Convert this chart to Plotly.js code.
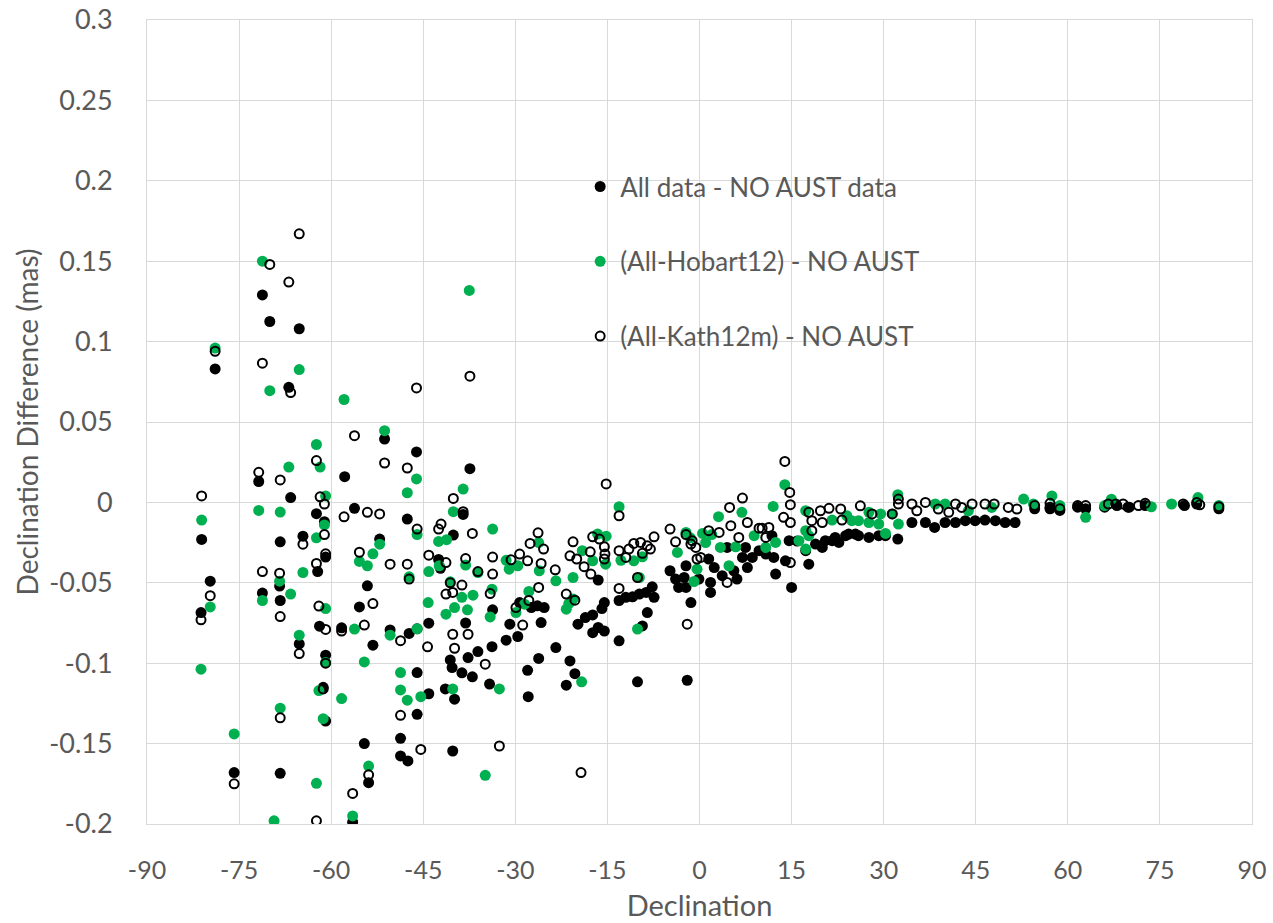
<!DOCTYPE html>
<html>
<head>
<meta charset="utf-8">
<script src="https://cdn.plot.ly/plotly-3.0.1.min.js"></script>
<style>
  body { margin: 0; background: #fff; }
  #chart { width: 1273px; height: 923px; }
</style>
</head>
<body>
<div id="chart"></div>
<script>
// [declination, difference (mas)]
var allMinusNoAust = [
  [-81.1,-0.023],[-81.2,-0.0685],[-79.7,-0.049],[-78.9,0.083],[-75.8,-0.168],
  [-71.2,0.129],[-71.8,0.013],[-71.2,-0.0564],[-70.0,0.1125],[-68.3,-0.0245],
  [-68.4,-0.052],[-68.3,-0.061],[-68.3,-0.1685],[-66.9,0.0716],[-66.6,0.003],
  [-65.2,0.108],[-65.2,-0.088],[-64.6,-0.021],[-62.4,-0.007],[-62.2,-0.043],
  [-61.9,-0.077],[-61.1,-0.012],[-60.9,-0.034],[-60.9,-0.095],[-61.3,-0.115],
  [-60.9,-0.136],[-58.3,-0.078],[-57.8,0.016],[-56.2,-0.0037],[-55.4,-0.065],
  [-54.1,-0.0519],[-54.6,-0.150],[-53.9,-0.1743],[-53.2,-0.0888],[-56.5,-0.1988],
  [-52.1,-0.0228],[-51.3,0.0394],[-50.4,-0.0793],[-48.7,-0.1467],[-48.7,-0.1577],
  [-47.5,-0.1608],[-47.6,-0.0104],[-47.3,-0.0815],[-46.1,0.0314],[-46,-0.0786],
  [-46,-0.1058],[-46,-0.1318],[-44.1,-0.0751],[-44.1,-0.119],[-42.5,-0.0355],
  [-42.2,-0.041],[-41.4,-0.116],[-40.6,-0.098],[-40.3,-0.1027],[-40.2,-0.1546],
  [-40.1,-0.0203],[-39.9,-0.1224],[-38.7,-0.106],[-38.5,-0.0075],[-38.1,-0.075],
  [-37.7,-0.0965],[-37.4,0.021],[-37,-0.1085],[-36.1,-0.0928],[-34.2,-0.113],
  [-33.8,-0.0897],[-33.7,-0.0668],[-31.5,-0.0857],[-30.9,-0.0757],[-29.6,-0.0834],
  [-29.3,-0.0623],[-28,-0.1044],[-27.9,-0.1208],[-27.4,-0.0654],[-26.4,-0.0643],
  [-26.2,-0.097],[-25.8,-0.0747],[-25.3,-0.0654],[-23.4,-0.0903],[-21.7,-0.1137],
  [-21.1,-0.0986],[-20.3,-0.1065],[-19.8,-0.0757],[-18.6,-0.0716],[-17.4,-0.070],
  [-17.4,-0.081],[-16.5,-0.0778],[-16.5,-0.0483],[-15.5,-0.080],[-15.5,-0.0623],
  [-15.9,-0.066],[-13.1,-0.061],[-13.1,-0.0861],[-12,-0.059],[-10.9,-0.0587],
  [-10.1,-0.1116],[-9.8,-0.057],[-9.3,-0.0768],[-8.7,-0.056],[-8.5,-0.0685],
  [-7.7,-0.0525],[-7.4,-0.059],[-4.8,-0.0425],[-3.9,-0.0477],[-3.4,-0.0529],
  [-2.5,-0.0467],[-2.2,-0.0394],[-2.2,-0.0529],[-2,-0.1106],[-1.4,-0.0623],
  [-0.1,-0.0477],[1.5,-0.0352],[1.8,-0.0498],[1.8,-0.056],[2.4,-0.0405],
  [3.7,-0.0456],[4.5,-0.028],[5.6,-0.0425],[6.1,-0.0477],[7,-0.0342],
  [7.5,-0.028],[7.8,-0.0405],[8.6,-0.0342],[9.7,-0.030],[10.8,-0.0321],
  [11.8,-0.0207],[12.1,-0.0342],[12.4,-0.0446],[14,-0.0363],[14.6,-0.0238],
  [15,-0.0529],[15.9,-0.024],[17.3,-0.030],[17.8,-0.0384],[18.9,-0.0259],
  [20,-0.028],[20.5,-0.0238],[21.6,-0.0238],[22.1,-0.0218],[22.7,-0.0249],
  [23.8,-0.0207],[24.3,-0.0197],[25.4,-0.0197],[25.9,-0.0207],[27.6,-0.0218],
  [29.2,-0.0207],[30.3,-0.0207],[32.3,-0.0228],[34.6,-0.0125],[36.8,-0.0125],
  [38.3,-0.0156],[40,-0.0125],[41.7,-0.0125],[43.3,-0.0114],[44.9,-0.0114],
  [46.5,-0.011],[48.2,-0.0114],[49.8,-0.0125],[51.4,-0.0125],[54.6,-0.004],
  [57.1,-0.004],[58.7,-0.005],[61.6,-0.003],[62.9,-0.004],[66,-0.003],
  [68,-0.002],[70,-0.003],[72.6,-0.002],[79,-0.002],[81,-0.001],[84.6,-0.004]
];

var hobartMinusNoAust = [
  [-81.1,-0.011],[-79.7,-0.065],[-81.2,-0.1037],[-78.9,0.096],[-75.8,-0.144],
  [-71.2,0.150],[-71.8,-0.005],[-71.2,-0.061],[-70.0,0.0695],[-69.3,-0.198],
  [-68.3,-0.006],[-68.3,-0.128],[-68.4,-0.049],[-66.9,0.022],[-66.6,-0.057],
  [-65.2,0.0826],[-65.2,-0.0826],[-64.6,-0.0436],[-62.4,0.036],[-62.4,-0.022],
  [-62.4,-0.1747],[-62,-0.117],[-61.8,0.022],[-61.1,-0.014],[-60.9,0.004],
  [-60.9,-0.066],[-60.9,-0.0996],[-61.3,-0.1345],[-58.3,-0.122],[-57.9,0.064],
  [-56.2,-0.0788],[-56.5,-0.195],[-55.4,-0.0367],[-54.6,-0.0992],[-54.1,-0.0394],
  [-53.9,-0.164],[-53.2,-0.032],[-52.1,-0.026],[-51.3,0.0446],[-50.4,-0.0826],
  [-48.7,-0.1058],[-48.7,-0.1166],[-47.6,0.006],[-47.6,-0.123],[-47.3,-0.0463],
  [-46.1,0.0146],[-46,-0.020],[-46,-0.0786],[-45.4,-0.1208],[-44.2,-0.0623],
  [-44.1,-0.043],[-42.5,-0.0243],[-42.4,-0.0394],[-41.3,-0.0695],[-41.2,-0.0232],
  [-40.6,-0.0494],[-40.2,-0.116],[-40.1,-0.0058],[-39.9,-0.0654],[-38.7,-0.059],
  [-38.5,0.0083],[-38.1,-0.039],[-37.8,-0.0668],[-37.5,0.1318],[-36.9,-0.0577],
  [-36.1,-0.0436],[-34.9,-0.1697],[-34.1,-0.0712],[-33.8,-0.054],[-33.7,-0.0166],
  [-32.6,-0.116],[-31.5,-0.036],[-31,-0.0415],[-29.9,-0.0685],[-29.6,-0.0394],
  [-28.5,-0.0633],[-27.8,-0.0554],[-26.2,-0.025],[-26.1,-0.0425],[-23.4,-0.0488],
  [-21.7,-0.0664],[-21.3,-0.063],[-20.6,-0.0467],[-20.6,-0.060],[-19.2,-0.1116],
  [-19.1,-0.030],[-17.4,-0.0363],[-16.6,-0.0197],[-15.3,-0.0384],[-15.2,-0.021],
  [-13.1,-0.0027],[-12.8,-0.036],[-10.7,-0.0363],[-10.1,-0.0788],[-9.8,-0.0467],
  [-9.3,-0.0338],[-3.6,-0.0311],[-2.2,-0.0187],[-1.5,-0.022],[-0.9,-0.0492],
  [-0.4,-0.0415],[0.5,-0.0193],[1,-0.025],[2,-0.02],[3.1,-0.0089],
  [3.4,-0.028],[4.8,-0.0394],[5.9,-0.0276],[6.9,-0.0062],[8.9,-0.0207],
  [10.8,-0.028],[12,-0.0025],[12.4,-0.0249],[13.9,0.011],[16.2,-0.0238],
  [17.3,-0.0052],[17.3,-0.029],[17.3,-0.0176],[17.8,-0.0207],[21.6,-0.011],
  [24,-0.0083],[24.8,-0.0114],[25.9,-0.0114],[27.6,-0.0062],[27.6,-0.0125],
  [29.2,-0.0135],[29.5,-0.0072],[30.3,-0.0193],[31.4,-0.0072],[32.3,0.0048],
  [32.4,-0.0135],[38.4,-0.001],[40,-0.001],[43.8,-0.0052],[47.6,-0.0031],
  [52.8,0.0021],[54.4,-0.001],[57.4,0.004],[58.7,-0.002],[62.9,-0.0093],
  [66,-0.002],[67.1,0.002],[73.6,-0.0027],[76.9,-0.001],[81.2,0.003],[84.6,-0.002]
];

var kathMinusNoAust = [
  [-81.1,0.004],[-81.2,-0.073],[-79.7,-0.058],[-78.9,0.094],[-75.8,-0.175],
  [-71.8,0.0187],[-71.2,0.0866],[-71.2,-0.043],[-70.0,0.148],[-68.3,0.014],
  [-68.4,-0.044],[-68.3,-0.071],[-68.3,-0.134],[-66.9,0.137],[-66.6,0.0683],
  [-65.2,0.167],[-65.2,-0.094],[-64.6,-0.026],[-62.4,0.026],[-62.4,-0.038],
  [-62.4,-0.198],[-62,-0.0645],[-61.8,0.0035],[-61.1,-0.001],[-61.1,-0.020],
  [-60.9,-0.032],[-60.9,-0.079],[-60.9,-0.100],[-61.3,-0.116],[-58.3,-0.08],
  [-57.9,-0.009],[-56.5,-0.181],[-56.2,0.0415],[-55.4,-0.031],[-54.6,-0.0763],
  [-54.1,-0.0062],[-53.9,-0.1694],[-53.2,-0.0629],[-52.1,-0.0072],[-51.3,0.0245],
  [-50.4,-0.0384],[-48.7,-0.086],[-48.7,-0.1324],[-47.6,0.0214],[-47.6,-0.0384],
  [-47.3,-0.0477],[-46.1,0.0712],[-46,-0.0166],[-45.4,-0.1536],[-44.3,-0.0898],
  [-44.1,-0.0328],[-42.5,-0.0166],[-42.1,-0.0135],[-41.3,-0.0374],[-41.3,-0.057],
  [-40.6,-0.05],[-40.2,-0.056],[-40.2,-0.082],[-40.1,0.0025],[-39.9,-0.0907],
  [-38.7,-0.0514],[-38.5,-0.0058],[-38.1,-0.0349],[-37.7,-0.082],[-37.4,0.0785],
  [-37,-0.0193],[-36.1,-0.043],[-34.9,-0.1006],[-34.1,-0.0567],[-33.7,-0.034],
  [-33.7,-0.0446],[-32.6,-0.1515],[-30.7,-0.0357],[-29.9,-0.0654],[-29.3,-0.0321],
  [-28.8,-0.0763],[-28,-0.0363],[-27.8,-0.061],[-27.6,-0.0255],[-26.3,-0.0189],
  [-26.2,-0.0529],[-25.8,-0.038],[-25.4,-0.029],[-23.5,-0.0419],[-21.7,-0.057],
  [-21.1,-0.0332],[-20.6,-0.0245],[-20.3,-0.0608],[-20,-0.0352],[-19.3,-0.168],
  [-18.8,-0.040],[-17.8,-0.0307],[-17.7,-0.0446],[-17.4,-0.0214],[-16.3,-0.0228],
  [-15.5,-0.0276],[-15.4,-0.0321],[-15.5,-0.0352],[-15.2,0.0115],[-13.1,-0.0083],
  [-13.1,-0.030],[-13.1,-0.0535],[-12,-0.0342],[-11.5,-0.029],[-10.7,-0.0255],
  [-10.1,-0.0467],[-9.6,-0.0249],[-9.3,-0.0317],[-8.5,-0.027],[-8,-0.029],
  [-7.4,-0.0214],[-4.8,-0.0166],[-3.9,-0.0245],[-2.2,-0.020],[-2,-0.0757],
  [-1.4,-0.0259],[-1.2,-0.0238],[-0.6,-0.028],[-0.4,-0.0352],[0.2,-0.0342],
  [1.5,-0.0176],[3.2,-0.0187],[4.5,-0.0498],[4.9,-0.0031],[5.1,-0.0145],
  [6.4,-0.0218],[7,0.0027],[7.8,-0.0125],[9.7,-0.016],[10.2,-0.016],
  [10.8,-0.0218],[11.3,-0.0156],[13.7,-0.0093],[13.9,0.0255],[14.7,0.0062],
  [14.8,-0.0014],[14.8,-0.0125],[14.8,-0.0374],[17.8,-0.0062],[18.3,-0.0114],
  [18.3,-0.0176],[19.7,-0.0052],[20,-0.0125],[21.1,-0.0037],[23,-0.0041],
  [23.2,-0.011],[26.2,-0.0021],[28.1,-0.0072],[31.4,-0.0072],[32.4,0.0021],
  [32.4,-0.001],[34.6,-0.001],[35.4,-0.0052],[36.8,0],[38.9,-0.0041],
  [40.6,-0.0062],[41.7,-0.001],[42.7,-0.0031],[44.4,-0.001],[46.5,-0.001],
  [48,-0.001],[50.3,-0.0031],[51.7,-0.0041],[54.6,-0.002],[57.1,-0.0006],
  [57.1,-0.003],[58.7,-0.004],[61.6,-0.002],[62.9,-0.002],[66.6,-0.001],
  [67.8,-0.001],[69,-0.001],[69.8,-0.003],[71.5,-0.002],[72.6,-0.0006],
  [78.8,-0.001],[81,0],[81.5,-0.0015],[84.6,-0.0027]
];

var xTickVals = [-90,-75,-60,-45,-30,-15,0,15,30,45,60,75,90];
var xTickText = ['-90','-75','-60','-45','-30','-15','0','15','30','45','60','75','90'];
var yTickVals = [0.3,0.25,0.2,0.15,0.1,0.05,0,-0.05,-0.1,-0.15,-0.2];
var yTickText = ['0.3','0.25','0.2','0.15','0.1','0.05','0','-0.05','-0.1','-0.15','-0.2'];

var grey = '#595959';
var fnt = 'Lato, "Liberation Sans", sans-serif';

function col(arr, i) { return arr.map(function (p) { return p[i]; }); }

var trace1 = {
  x: col(allMinusNoAust, 0), y: col(allMinusNoAust, 1),
  type: 'scatter', mode: 'markers', name: 'All data - NO AUST data',
  legendgroup: 'a',
  marker: { color: '#000000', size: 11 }
};
var trace2 = {
  x: col(hobartMinusNoAust, 0), y: col(hobartMinusNoAust, 1),
  type: 'scatter', mode: 'markers', name: '(All-Hobart12) - NO AUST',
  legendgroup: 'b',
  marker: { color: '#00b050', size: 11 }
};
var trace3 = {
  x: col(kathMinusNoAust, 0), y: col(kathMinusNoAust, 1),
  type: 'scatter', mode: 'markers', name: '(All-Kath12m) - NO AUST',
  legendgroup: 'c',
  marker: { symbol: 'circle-open', color: '#000000', size: 9, line: { width: 2, color: '#000000' } }
};

var layout = {
  width: 1273, height: 923,
  margin: { l: 147, r: 21, t: 20, b: 99 },
  paper_bgcolor: '#ffffff', plot_bgcolor: '#ffffff',
  font: { family: fnt, color: grey },
  showlegend: true,
  legend: {
    x: 0.392, y: 0.822, xanchor: 'left', yanchor: 'top',
    bgcolor: 'rgba(0,0,0,0)', tracegroupgap: 38,
    font: { family: fnt, size: 26, color: grey }
  },
  xaxis: {
    range: [-90, 90], tickvals: xTickVals, ticktext: xTickText,
    showgrid: true, gridcolor: '#d9d9d9', gridwidth: 1,
    zeroline: false, showline: true, linecolor: '#d9d9d9', mirror: true,
    ticks: '', tickfont: { family: fnt, size: 25, color: grey }, ticklabelstandoff: 24,
    title: { text: 'Declination', font: { family: fnt, size: 29, color: grey }, standoff: 12 }
  },
  yaxis: {
    range: [-0.2, 0.3], tickvals: yTickVals, ticktext: yTickText,
    showgrid: true, gridcolor: '#d9d9d9', gridwidth: 1,
    zeroline: false, showline: true, linecolor: '#d9d9d9', mirror: true,
    ticks: '', tickfont: { family: fnt, size: 27, color: grey }, ticklabelstandoff: 28,
    title: { text: 'Declination Difference (mas)', font: { family: fnt, size: 28, color: grey }, standoff: 2 }
  }
};

Plotly.newPlot('chart', [trace1, trace2, trace3], layout, { displayModeBar: false, staticPlot: true });
</script>
</body>
</html>
